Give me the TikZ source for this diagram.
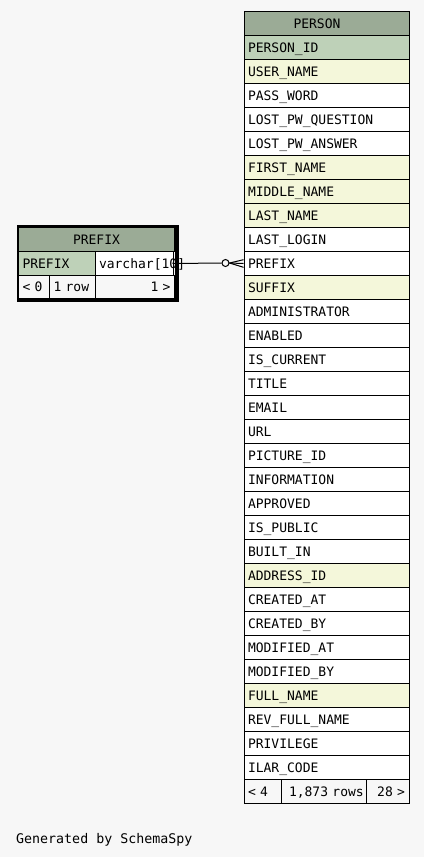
\documentclass[tikz,border=0pt]{standalone}
\usepackage{fontspec}
\newfontfamily\tblfont{DejaVu Sans Mono}
\definecolor{bgc}{HTML}{F7F7F7}
\definecolor{hdr}{HTML}{9BAB96}
\definecolor{pkc}{HTML}{BED1B8}
\definecolor{idxc}{HTML}{F4F7DA}
\definecolor{wc}{HTML}{FFFFFF}
\tikzset{
  cell/.style={rectangle, draw=black, line width=1pt, inner xsep=4pt, inner ysep=0pt,
    minimum height=24pt, align=left, text height=9pt, text depth=0pt,
    anchor=north west, font=\tblfont\fontsize{13}{15}\selectfont},
  pcell/.style={cell, text width=157pt},
  link/.style={draw=black, line width=1pt},
}
\begin{document}
\begin{tikzpicture}[x=1pt,y=-1pt]
\fill[bgc] (0,0) rectangle (424,857);
\useasboundingbox (0,0) rectangle (424,857);

% PERSON table
\node[pcell, fill=hdr] (ph) at (243.5,11) {\hspace*{45.5pt}PERSON};
\foreach \nm/\cl [count=\i] in {PERSON\_ID/pkc, USER\_NAME/idxc, PASS\_WORD/wc,
  LOST\_PW\_QUESTION/wc, LOST\_PW\_ANSWER/wc, FIRST\_NAME/idxc, MIDDLE\_NAME/idxc,
  LAST\_NAME/idxc, LAST\_LOGIN/wc, PREFIX/wc, SUFFIX/idxc, ADMINISTRATOR/wc,
  ENABLED/wc, IS\_CURRENT/wc, TITLE/wc, EMAIL/wc, URL/wc, PICTURE\_ID/wc,
  INFORMATION/wc, APPROVED/wc, IS\_PUBLIC/wc, BUILT\_IN/wc, ADDRESS\_ID/idxc,
  CREATED\_AT/wc, CREATED\_BY/wc, MODIFIED\_AT/wc, MODIFIED\_BY/wc, FULL\_NAME/idxc,
  REV\_FULL\_NAME/wc, PRIVILEGE/wc, ILAR\_CODE/wc}
{
  \node[pcell, fill=\cl] (p\i) at (243.5,{35+(\i-1)*24}) {\nm};
}
\node[cell, fill=bgc, text width=29pt] (pf1) at (243.5,779) {<~4};
\node[cell, fill=bgc, text width=77.2pt] (pf2) at (280.5,779) {\hspace*{4pt}\mbox{1,873~rows}};
\node[cell, fill=bgc, text width=34.8pt, align=right] (pf3) at (365.7,779) {28~>};

% PREFIX table frame (drawn first so the overflowing text lies on top)
\node[draw=black, line width=3.3pt, minimum width=158.6pt, minimum height=73.5pt,
  anchor=north west, inner sep=0pt] (fxframe) at (16.7,224.9) {};
\node[cell, fill=hdr, text width=148pt, align=center] (fxh) at (18,227) {PREFIX};
\node[cell, fill=pkc, text width=69pt] (fxcol) at (18,251) {PREFIX};
\node[cell, fill=wc, text width=71pt, inner xsep=3.5pt] (fxtype) at (95,251) {varchar[10]};
\node[cell, fill=bgc, text width=23pt, minimum height=22.5pt] (fxf1) at (18,275) {<~0};
\node[cell, fill=bgc, text width=38pt, minimum height=22.5pt] (fxf2) at (49,275) {1~row};
\node[cell, fill=bgc, text width=71pt, minimum height=22.5pt, align=right] (fxf3) at (95,275) {1~>};

% relationship
\node[circle, draw=black, fill=bgc, line width=1pt, minimum size=7pt, inner sep=0pt] (odot) at (225.5,263) {};
\coordinate (crow) at (229.5,263);
\draw[link] (fxtype.east) -- (odot.west);
\draw[link] (odot.east) -- (p10.west);
\draw[link] ([yshift=3.8pt]p10.west) -- (crow) -- ([yshift=-3.8pt]p10.west);

\node[anchor=base west, inner sep=0pt, font=\tblfont\fontsize{13.3}{16}\selectfont] (gen) at (16,843.3) {Generated by SchemaSpy};
\end{tikzpicture}
\end{document}
